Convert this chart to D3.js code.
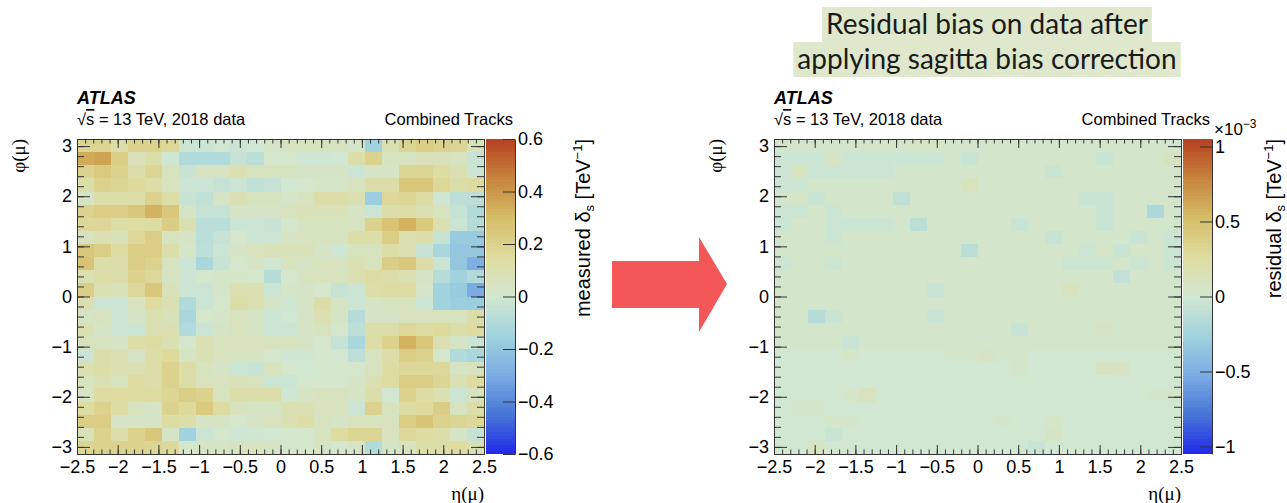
<!DOCTYPE html>
<html>
<head>
<meta charset="utf-8">
<script src="https://cdn.jsdelivr.net/npm/d3@7"></script>
<style>
  body { margin: 0; background: #fff; }
  svg { display: block; }
</style>
</head>
<body>
<svg id="chart" width="1287" height="503"></svg>
<script>
// ---- axis tick labels ----
const etaTicks = [-2.5, -2, -1.5, -1, -0.5, 0, 0.5, 1, 1.5, 2, 2.5];
const phiTicks = [-3, -2, -1, 0, 1, 2, 3];
const measuredTicks = [-0.6, -0.4, -0.2, 0, 0.2, 0.4, 0.6];
const residualTicks = [-1, -0.5, 0, 0.5, 1];

// ---- binning: 24 bins in eta (-2.5..2.5) x 24 bins in phi (-pi..pi) ----
const etaRange = [-2.5, 2.5];
const phiRange = [-Math.PI, Math.PI];
const nEta = 24, nPhi = 24;

// ---- measured sagitta bias [TeV^-1]; rows run from highest phi (top) to lowest ----
const measuredBias = [
  [0.18,0.18,0.13,0.20,0.20,0.17,-0.02,-0.02,0.00,-0.02,0.00,0.03,0.05,0.05,0.05,0.05,0.03,-0.15,0.10,0.18,0.22,0.20,0.18,0.08],
  [0.35,0.37,0.22,0.08,0.12,-0.01,-0.10,-0.10,-0.10,-0.04,-0.07,0.02,0.02,-0.01,-0.01,0.00,0.12,0.20,0.05,0.05,0.08,0.08,0.06,-0.03],
  [0.20,0.24,0.20,0.12,0.18,0.06,-0.03,0.06,0.06,0.10,0.06,0.06,0.05,0.04,0.04,0.04,-0.02,0.04,0.04,0.18,0.18,0.14,0.10,-0.02],
  [0.12,0.20,0.18,0.16,0.13,0.06,-0.02,-0.02,-0.04,-0.02,-0.05,-0.04,0.00,0.02,0.03,0.03,0.06,0.12,0.12,0.25,0.25,0.17,0.12,0.15],
  [0.04,0.13,0.13,0.13,0.20,0.13,-0.03,-0.05,0.04,0.10,0.05,0.05,0.03,0.06,0.12,0.12,0.10,-0.17,0.17,0.18,0.14,-0.01,-0.06,-0.06],
  [0.20,0.22,0.22,0.25,0.33,0.25,0.04,-0.04,-0.04,0.04,0.04,0.04,0.07,0.08,0.08,0.08,0.04,-0.02,0.12,0.13,0.10,0.06,-0.04,-0.10],
  [0.17,0.17,0.12,0.14,0.14,0.22,0.10,-0.07,-0.07,-0.02,-0.02,-0.03,0.02,0.05,0.05,0.05,0.06,0.20,0.27,0.33,0.24,0.10,-0.02,-0.08],
  [0.06,0.10,0.08,0.17,0.22,0.06,0.04,-0.07,-0.04,0.02,-0.02,-0.02,0.04,0.06,0.06,0.06,0.12,0.12,0.22,0.10,0.12,-0.04,-0.18,-0.18],
  [0.25,0.22,0.14,0.22,0.22,0.12,0.03,-0.06,-0.02,0.04,0.06,0.08,0.08,0.08,0.04,-0.01,0.06,0.06,0.12,0.10,-0.03,-0.12,-0.20,-0.20],
  [0.27,0.12,0.12,0.22,0.20,0.06,-0.02,-0.12,-0.03,0.02,0.04,-0.01,0.06,0.04,0.06,0.06,0.10,0.06,0.22,0.25,0.13,-0.02,-0.20,-0.28],
  [0.10,0.12,0.12,0.20,0.17,0.05,-0.02,0.02,0.03,0.03,0.02,-0.08,0.02,0.05,0.06,0.06,0.10,0.14,0.12,0.10,0.04,-0.08,-0.15,-0.10],
  [0.22,0.10,0.08,0.17,0.25,0.08,-0.02,-0.02,0.03,0.10,0.10,-0.02,0.03,0.04,0.02,-0.04,-0.02,0.13,0.14,0.14,0.03,-0.15,-0.18,-0.30],
  [0.10,-0.02,-0.02,0.06,0.15,0.10,-0.10,-0.02,0.02,0.12,0.10,0.04,-0.01,0.04,0.12,0.04,-0.02,0.04,0.06,0.06,-0.02,-0.15,-0.17,-0.17],
  [0.04,0.06,-0.02,0.04,0.10,0.08,-0.12,0.02,0.03,0.06,0.04,-0.02,0.00,0.04,0.10,0.04,-0.08,0.04,0.04,0.06,0.06,0.06,0.06,0.12],
  [0.10,0.04,-0.02,-0.02,0.10,0.10,-0.10,-0.02,0.04,0.06,0.04,-0.02,-0.02,0.04,0.06,0.02,-0.06,0.12,0.12,0.17,0.14,0.16,0.12,0.15],
  [0.06,0.06,0.04,0.13,0.15,0.10,0.02,0.10,0.06,0.06,0.06,0.06,0.06,0.04,0.02,-0.04,-0.12,0.13,0.20,0.33,0.25,0.10,0.04,-0.02],
  [-0.02,0.12,0.10,0.04,0.13,0.16,0.04,0.10,0.06,0.05,0.05,0.02,-0.01,-0.01,0.02,0.00,-0.06,0.06,0.12,0.22,0.20,0.02,-0.10,-0.12],
  [0.10,0.12,0.10,0.10,0.12,0.20,0.13,0.06,0.04,-0.02,-0.03,0.06,0.02,0.00,0.02,0.02,0.02,0.06,0.14,0.17,0.17,0.17,0.04,0.06],
  [0.06,0.10,0.06,0.15,0.12,0.20,0.12,0.06,0.06,0.08,0.06,-0.02,-0.02,0.02,0.02,0.02,0.04,0.10,0.15,0.22,0.22,0.18,0.10,0.15],
  [0.04,0.15,0.15,0.15,0.15,0.18,0.22,0.20,0.06,0.12,0.12,0.12,-0.01,0.04,0.06,0.06,0.04,0.12,0.00,0.20,0.14,0.10,-0.02,0.06],
  [0.15,0.20,0.14,0.06,0.04,0.20,0.16,0.24,0.14,0.06,0.04,0.04,0.10,0.10,0.06,0.06,-0.02,0.20,0.06,0.14,0.16,0.22,0.06,0.12],
  [0.22,0.22,0.04,0.04,0.04,0.14,0.12,0.04,0.04,0.02,0.04,0.06,0.10,0.13,0.06,0.04,0.06,0.06,0.06,0.22,0.27,0.20,0.18,0.17],
  [0.08,0.20,0.12,0.20,0.25,0.04,-0.15,-0.02,0.02,-0.01,-0.01,0.00,0.02,0.02,0.06,0.15,0.18,0.18,0.06,0.17,0.15,0.12,0.04,-0.04],
  [0.18,0.20,0.20,0.20,0.18,0.16,0.02,0.04,0.04,0.06,0.06,0.04,0.02,0.02,0.04,0.02,0.04,-0.10,0.04,0.06,0.12,0.12,0.15,0.10]
];

// ---- residual bias after correction [1e-3 TeV^-1]; rows from highest phi to lowest ----
const residualBias = [
  [0.03,0.03,0.03,0.03,0.03,0.03,0.03,0.03,0.05,0.05,0.03,0.03,0.03,0.03,0.03,0.03,0.03,0.03,0.03,0.03,0.03,0.03,0.03,0.03],
  [-0.03,-0.03,-0.03,0.08,-0.03,-0.03,-0.03,-0.03,-0.03,-0.03,0.03,-0.04,0.03,0.03,0.03,0.03,0.03,0.03,0.03,-0.04,0.03,0.03,0.03,0.10],
  [-0.02,0.10,-0.03,-0.03,-0.03,-0.03,-0.03,0.03,0.03,0.03,0.03,0.03,0.03,0.03,0.03,0.03,-0.04,0.03,0.03,0.03,0.03,0.03,0.03,0.03],
  [-0.03,-0.03,0.03,0.03,0.03,0.03,0.03,0.03,0.03,0.03,0.03,0.10,0.03,0.03,0.03,0.03,0.03,0.03,0.03,0.03,0.03,0.03,0.03,0.03],
  [0.03,0.05,-0.04,0.03,0.03,0.03,0.03,-0.10,0.03,0.03,0.03,0.03,0.03,0.03,0.03,0.03,0.03,0.03,-0.04,-0.04,0.03,0.03,0.03,0.03],
  [-0.03,-0.03,0.05,-0.03,0.03,0.03,0.03,0.03,0.03,0.03,0.03,0.03,0.03,0.03,0.03,0.03,0.03,0.03,0.03,-0.04,0.03,0.03,-0.20,0.03],
  [-0.03,0.03,0.03,-0.03,-0.03,-0.03,-0.03,0.03,-0.12,0.03,0.03,0.03,0.03,0.03,-0.04,0.03,0.03,0.03,0.03,-0.04,0.03,0.03,0.03,0.03],
  [0.03,0.03,0.03,-0.03,0.03,0.03,0.03,0.03,0.03,0.03,0.03,0.03,0.03,0.03,0.03,0.03,-0.05,0.03,0.03,0.03,0.03,-0.04,0.03,-0.03],
  [0.03,0.03,0.03,0.03,0.03,0.03,0.03,0.03,0.03,0.03,0.03,-0.12,0.03,0.03,0.03,0.03,0.03,0.03,-0.03,0.05,-0.04,0.05,0.03,-0.03],
  [-0.03,0.03,0.03,-0.03,0.03,0.03,0.03,0.03,0.03,0.03,0.03,0.03,0.03,0.03,0.03,0.03,0.03,-0.03,-0.03,-0.03,0.05,-0.03,0.03,-0.03],
  [0.03,0.03,0.03,0.03,0.03,0.03,0.03,0.03,0.03,0.03,0.03,0.03,0.03,0.03,0.03,0.03,0.03,0.03,0.03,0.03,-0.08,0.03,0.03,0.03],
  [0.03,0.03,0.03,0.03,0.03,0.03,0.03,0.03,0.03,-0.04,0.03,0.03,0.03,0.03,0.03,0.03,0.03,0.10,0.03,0.03,0.03,0.03,0.03,0.03],
  [0.03,0.03,0.03,0.03,0.03,0.03,0.03,0.03,0.03,0.03,0.03,0.03,0.03,0.03,0.03,0.03,0.03,0.03,0.03,0.03,0.03,0.03,0.03,0.03],
  [0.03,0.03,-0.15,-0.04,0.03,0.03,0.03,0.03,0.03,-0.04,0.03,0.03,0.03,0.03,0.03,0.03,0.03,0.03,0.03,0.03,0.03,0.03,0.03,0.03],
  [0.03,0.03,0.03,0.03,0.03,0.03,0.03,0.03,0.03,0.03,0.03,0.03,0.03,0.03,-0.05,0.03,0.03,0.03,0.03,0.06,0.03,0.03,0.03,0.03],
  [0.03,0.03,0.03,0.03,-0.04,0.03,0.03,0.03,0.03,0.03,0.03,0.03,0.03,0.03,0.03,0.03,0.03,0.03,0.03,0.03,0.03,0.03,0.03,0.03],
  [0.00,0.00,0.00,0.00,0.05,0.00,0.00,0.00,0.00,0.00,0.03,0.03,0.08,0.03,0.03,0.00,0.00,0.00,0.00,0.00,0.00,0.00,0.00,0.00],
  [0.00,0.00,0.00,0.00,0.00,0.00,0.00,0.00,0.00,0.00,0.00,0.00,0.00,0.00,0.04,0.00,0.00,0.00,0.00,0.10,0.08,0.00,0.00,0.00],
  [0.00,0.00,0.00,0.00,0.00,0.00,0.00,0.00,0.00,0.00,0.00,0.00,0.00,0.00,0.00,0.00,0.00,0.00,0.00,0.00,0.00,0.00,0.00,0.00],
  [0.00,0.00,0.00,0.00,0.04,0.10,0.00,0.00,0.00,0.00,0.00,0.00,0.00,0.00,0.00,0.00,0.00,0.00,0.00,0.00,0.00,0.00,0.03,0.03],
  [0.00,0.03,0.03,0.00,0.00,0.00,0.00,0.00,0.00,0.00,0.00,0.00,0.00,0.00,0.00,0.00,0.00,0.00,0.00,0.00,0.00,0.00,0.00,0.00],
  [0.00,0.00,0.00,0.03,0.03,0.00,0.00,0.00,0.00,0.00,0.00,0.00,0.00,0.03,0.00,0.00,0.04,0.00,0.00,0.00,0.00,0.00,0.00,0.00],
  [0.00,0.00,0.00,-0.04,0.00,0.00,0.00,0.00,0.00,0.00,0.00,0.00,0.00,0.00,0.00,0.00,0.07,0.00,0.00,0.00,0.00,0.00,0.00,0.00],
  [0.00,0.00,0.08,0.00,0.00,0.00,0.00,0.00,0.00,0.00,0.00,0.00,0.00,0.00,0.00,-0.04,0.00,0.00,0.00,0.00,0.00,0.00,0.00,0.00]
];

// ---- colour palette (light temperature map), 9 evenly spaced stops ----
const paletteR = [31, 71, 123, 160, 210, 222, 214, 199, 183];
const paletteG = [40, 117, 171, 211, 231, 220, 190, 132, 65];
const paletteB = [234, 214, 228, 222, 210, 160, 105, 60, 34];
const paletteColors = paletteR.map((r, i) => d3.rgb(r, paletteG[i], paletteB[i]).formatHex());

const svg = d3.select("#chart");
svg.append("rect").attr("width", 1287).attr("height", 503).attr("fill", "#fff");

const SANS = "'Liberation Sans', Arial, Helvetica, sans-serif";
const SERIF = "'Liberation Serif', 'Times New Roman', serif";
const tickFont = 18;

function drawPanel(opt) {
  const W = 407, H = 315;
  const g = svg.append("g").attr("transform", `translate(${opt.left},${opt.top})`);

  const x = d3.scaleLinear().domain(etaRange).range([0, W]);
  const y = d3.scaleLinear().domain(phiRange).range([H, 0]);
  const z = d3.scaleLinear().domain([opt.zMin, opt.zMax]).range([H, 0]);
  const color = d3.scaleLinear()
    .domain(d3.range(paletteColors.length).map(i => opt.zMin + i * (opt.zMax - opt.zMin) / (paletteColors.length - 1)))
    .range(paletteColors)
    .interpolate(d3.interpolateRgb)
    .clamp(true);

  // heat-map cells
  const etaW = (etaRange[1] - etaRange[0]) / nEta;
  const phiW = (phiRange[1] - phiRange[0]) / nPhi;
  const cells = [];
  opt.values.forEach((row, r) => row.forEach((v, c) => {
    const eta0 = etaRange[0] + c * etaW;
    const phiTop = phiRange[1] - r * phiW;
    cells.push({eta0, eta1: eta0 + etaW, phi0: phiTop - phiW, phi1: phiTop, v});
  }));
  g.append("g").selectAll("rect").data(cells).join("rect")
    .attr("x", d => x(d.eta0))
    .attr("y", d => y(d.phi1))
    .attr("width", d => x(d.eta1) - x(d.eta0) + 0.5)
    .attr("height", d => y(d.phi0) - y(d.phi1) + 0.5)
    .attr("fill", d => color(d.v))
    .attr("shape-rendering", "crispEdges");

  // frame axes: major and minor ticks on all four sides
  const etaMinor = d3.range(-25, 26).map(i => i / 10);
  const phiMinor = d3.range(-15, 16).map(i => i / 5);
  const style = sel => {
    sel.selectAll("path.domain").attr("stroke", "#333");
    sel.selectAll(".tick line").attr("stroke", "#333");
    sel.selectAll("text").attr("font-family", SANS).attr("font-size", tickFont).attr("fill", "#000");
  };
  g.append("g").attr("transform", `translate(0,${H})`)
    .call(d3.axisBottom(x).tickValues(etaMinor).tickSize(-4.5).tickSizeOuter(0).tickFormat(""))
    .call(style);
  g.append("g").attr("transform", `translate(0,${H})`)
    .call(d3.axisBottom(x).tickValues(etaTicks).tickSize(-9).tickSizeOuter(0).tickPadding(6).tickFormat(d3.format("~g")))
    .call(style);
  g.append("g")
    .call(d3.axisTop(x).tickValues(etaMinor).tickSize(-4.5).tickSizeOuter(0).tickFormat(""))
    .call(style);
  g.append("g")
    .call(d3.axisTop(x).tickValues(etaTicks).tickSize(-9).tickSizeOuter(0).tickFormat(""))
    .call(style);
  g.append("g")
    .call(d3.axisLeft(y).tickValues(phiMinor).tickSize(-7).tickSizeOuter(0).tickFormat(""))
    .call(style);
  g.append("g")
    .call(d3.axisLeft(y).tickValues(phiTicks).tickSize(-13).tickSizeOuter(0).tickPadding(5).tickFormat(d3.format("~g")))
    .call(style);
  g.append("g").attr("transform", `translate(${W},0)`)
    .call(d3.axisRight(y).tickValues(phiMinor).tickSize(-7).tickSizeOuter(0).tickFormat(""))
    .call(style);
  g.append("g").attr("transform", `translate(${W},0)`)
    .call(d3.axisRight(y).tickValues(phiTicks).tickSize(-13).tickSizeOuter(0).tickFormat(""))
    .call(style);

  // colour bar
  const cbX = W + 2, cbW = 29;
  const nBands = 100;
  const step = (opt.zMax - opt.zMin) / nBands;
  const bands = d3.range(nBands).map(i => opt.zMin + i * step);
  g.append("g").selectAll("rect").data(bands).join("rect")
    .attr("x", cbX)
    .attr("y", d => z(d + step))
    .attr("width", cbW)
    .attr("height", d => z(d) - z(d + step) + 0.4)
    .attr("fill", d => color(d + step / 2))
    .attr("shape-rendering", "crispEdges");
  g.append("g").attr("transform", `translate(${cbX + cbW},0)`)
    .call(d3.axisRight(z).tickValues(opt.zTicks).tickSize(-12).tickSizeOuter(0).tickPadding(3).tickFormat(d3.format("~g")))
    .call(style);

  // labels
  g.append("text").attr("x", 0).attr("y", -35)
    .attr("font-family", SANS).attr("font-size", 18).attr("font-weight", "bold").attr("font-style", "italic")
    .text("ATLAS");
  const energy = g.append("text").attr("x", 0).attr("y", -14)
    .attr("font-family", SANS).attr("font-size", 16.5);
  energy.append("tspan").text("\u221A");
  energy.append("tspan").attr("style", "text-decoration: overline").text("s");
  energy.append("tspan").text(" = 13 TeV, 2018 data");
  g.append("text").attr("x", cbX + cbW - 2).attr("y", -14).attr("text-anchor", "end")
    .attr("font-family", SANS).attr("font-size", 16.5)
    .text("Combined Tracks");

  // axis titles
  g.append("text").attr("x", W).attr("y", H + 46).attr("text-anchor", "end")
    .attr("font-family", SERIF).attr("font-size", 19)
    .text("\u03B7(\u03BC)");
  g.append("text").attr("transform", `translate(${-52},0) rotate(-90)`).attr("text-anchor", "end")
    .attr("font-family", SERIF).attr("font-size", 19)
    .text("\u03C6(\u03BC)");

  const zt = g.append("text").attr("transform", `translate(${opt.zTitleX},0) rotate(-90)`).attr("text-anchor", "end")
    .attr("font-family", SANS).attr("font-size", 20);
  zt.append("tspan").text(opt.zTitle + " \u03B4");
  zt.append("tspan").attr("font-size", 13).attr("dy", 4).text("s");
  zt.append("tspan").attr("dy", -4).text(" [TeV");
  zt.append("tspan").attr("font-size", 13).attr("dy", -8).text("\u22121");
  zt.append("tspan").attr("dy", 8).text("]");

  if (opt.exponent) {
    const ex = g.append("text").attr("x", cbX + cbW + 2).attr("y", -4)
      .attr("font-family", SANS).attr("font-size", 17);
    ex.append("tspan").text("\u00D710");
    ex.append("tspan").attr("font-size", 12).attr("dy", -7).text("\u22123");
  }
}

drawPanel({left: 77, top: 139, values: measuredBias, zMin: -0.6, zMax: 0.6,
  zTicks: measuredTicks, zTitle: "measured", zTitleX: 513});
drawPanel({left: 774, top: 139, values: residualBias, zMin: -1.05, zMax: 1.05,
  zTicks: residualTicks, zTitle: "residual", zTitleX: 507, exponent: true});

// arrow between the two maps
svg.append("path")
  .attr("d", "M612,261 L699,261 L699,237 L727,284 L699,332 L699,308 L612,308 Z")
  .attr("fill", "#f45757");

// highlighted heading
const headLines = ["Residual bias on data after", "applying sagitta bias correction"];
const head = svg.append("g");
headLines.forEach((line, i) => {
  const t = head.append("text")
    .attr("x", 987).attr("y", 34 + i * 35)
    .attr("text-anchor", "middle")
    .attr("font-family", "Lato, 'Open Sans', sans-serif")
    .attr("font-size", 28)
    .attr("fill", "#1a1a1a")
    .text(line);
  const bb = t.node().getBBox();
  head.insert("rect", "text")
    .attr("x", bb.x - 4).attr("y", 7 + i * 35)
    .attr("width", bb.width + 8).attr("height", 35)
    .attr("fill", "#dfe8cc");
});
</script>
</body>
</html>
